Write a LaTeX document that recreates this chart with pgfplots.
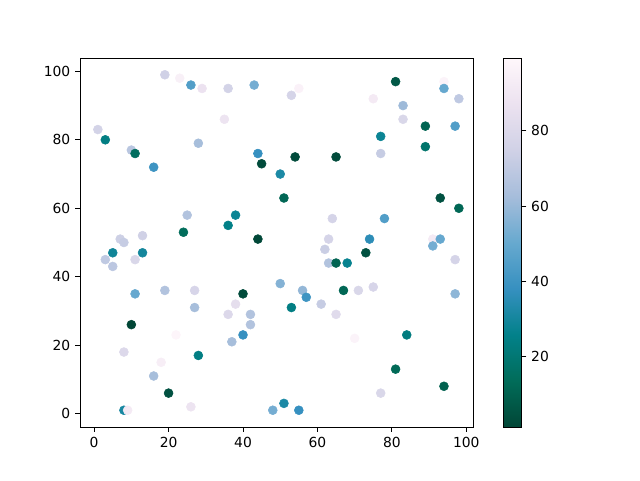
\documentclass[border=0pt]{standalone}
\usepackage{fontspec}
\setmainfont{DejaVu Sans}
\usepackage{pgfplots}
\pgfplotsset{compat=1.18}

\pgfplotsset{
  colormap={pubugnr}{rgb255=(1,70,54) rgb255=(1,108,89) rgb255=(2,129,138)
    rgb255=(54,144,192) rgb255=(103,169,207) rgb255=(166,189,219)
    rgb255=(208,209,230) rgb255=(236,226,240) rgb255=(255,247,251)},
}

\begin{document}
\begin{tikzpicture}
\fontsize{10.4}{12}\selectfont
\path[use as bounding box] (0,0) rectangle (480pt,360pt);
\begin{axis}[
  at={(60pt,39.75pt)}, anchor=south west,
  scale only axis, width=294.75pt, height=276.75pt,
  xmin=-3.8, xmax=101.8, ymin=-3.9, ymax=103.9,
  xtick={0,20,40,60,80,100}, ytick={0,20,40,60,80,100},
  xtick pos=bottom, ytick pos=left,
  tick align=outside, major tick length=3.65pt,
  axis line style={line width=0.6pt},
  tick style={line width=0.6pt, black},
  ticklabel style={font=\fontsize{10.4}{12}\selectfont},
  /pgf/number format/assume math mode=true,
  colormap name=pubugnr,
  point meta min=1.3, point meta max=99.3,
  colorbar,
  colorbar style={
    at={(parent axis.north east)}, anchor=north west, xshift=14.5pt,
    width=13.3pt,
    ytick={20,40,60,80},
    ytick pos=right, yticklabel pos=right,
    tick align=outside, major tick length=3.65pt,
    tick style={line width=0.6pt, black},
    ticklabel style={font=\fontsize{10.4}{12}\selectfont},
    /pgf/number format/assume math mode=true,
    axis line style={line width=0.6pt},
  },
]
\addplot[
  scatter, only marks, mark=*, mark size=3.35pt,
  scatter/use mapped color={draw=mapped color, fill=mapped color},
  point meta=explicit,
] table[meta=c] {
x y c
19 99 75
23 98 95
26 96 45
29 95 87
36 95 76
43 96 53
35 86 88
1 83 76
3 80 24
10 77 68
11 76 15
28 79 63
16 72 40
44 76 38
45 73 3
50 70 32
25 58 66
38 58 28
36 55 25
24 53 14
44 51 2
13 52 75
7 51 74
8 50 72
51 63 12
55 95 96
53 93 77
81 97 7
94 97 97
94 95 50
98 92 70
75 92 92
83 90 61
83 86 79
89 84 11
97 84 45
77 81 28
89 78 18
77 76 72
54 75 3
65 75 3
93 63 5
98 60 12
64 57 77
78 57 45
63 51 77
74 51 36
91 51 92
93 51 50
91 49 53
62 48 73
73 47 5
63 44 66
65 44 11
68 44 27
97 45 77
50 38 56
56 36 59
57 34 40
67 36 12
71 36 79
75 37 78
97 35 58
53 31 24
61 32 72
65 29 82
70 22 97
84 23 23
81 13 13
94 8 10
77 6 79
51 3 32
48 1 53
55 1 38
5 47 29
13 47 30
3 45 70
11 45 79
5 43 69
11 35 50
19 36 66
27 36 78
40 35 3
38 32 84
27 31 63
36 29 80
42 29 66
42 26 66
40 23 38
37 21 63
10 26 1
22 23 98
8 18 80
28 17 24
18 15 94
16 11 63
20 6 5
26 2 88
8 1 31
9 1 92
};
\end{axis}
\end{tikzpicture}
\end{document}
